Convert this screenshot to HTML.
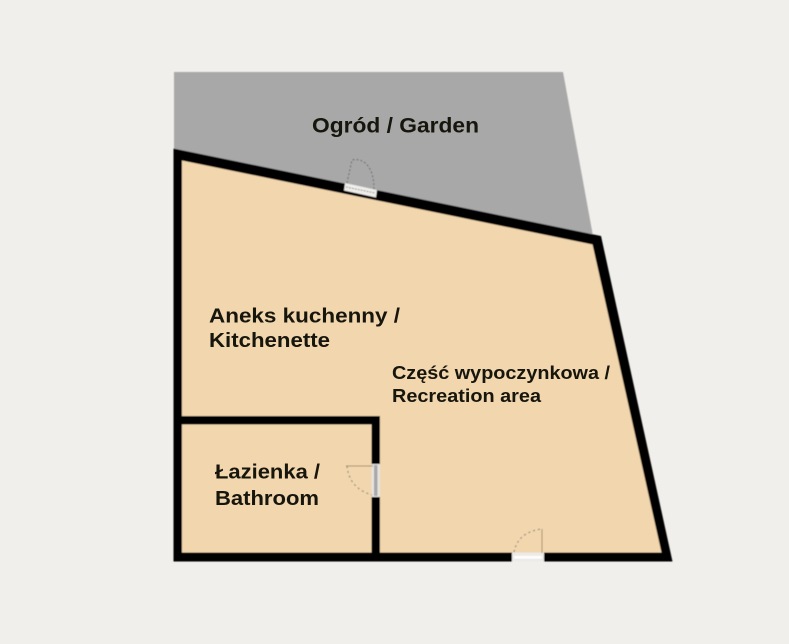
<!DOCTYPE html>
<html>
<head>
<meta charset="utf-8">
<style>
html,body{margin:0;padding:0;background:#f1efeb;}
svg{display:block;}
text{font-family:"Liberation Sans",sans-serif;font-weight:bold;fill:#161310;}
</style>
</head>
<body>
<svg width="789" height="644" viewBox="0 0 789 644" xmlns="http://www.w3.org/2000/svg">
<defs>
<filter id="b" x="-5%" y="-5%" width="110%" height="110%"><feGaussianBlur stdDeviation="0.5"/></filter>
<filter id="t" x="-5%" y="-20%" width="110%" height="140%"><feGaussianBlur stdDeviation="0.35"/></filter>
</defs>
<rect width="789" height="644" fill="#f1efeb"/>
<g filter="url(#b)">
<polygon points="174,72 563,72 593,236 174,150" fill="#a8a8a8"/>
<polygon points="173.5,148.5 601,236 672.5,561.5 173.5,561.5" fill="#000"/>
<polygon points="182,160.5 592.5,244.5 661.5,552.5 182,552.5" fill="#f2d6ad"/>
<rect x="174" y="416" width="206" height="8.5" fill="#000"/>
<rect x="371.5" y="416" width="8.5" height="142" fill="#000"/>
<!-- top door -->
<polygon points="345,183 377,190 376,197.5 344,190.5" fill="#f0eeea"/>
<line x1="346" y1="187" x2="375" y2="193" stroke="#9a9a9a" stroke-width="1" stroke-dasharray="2 1"/>
<path d="M347,183 L352,160 Q362,158 368,166 Q374,174 374,189" fill="none" stroke="#666" stroke-width="1" stroke-dasharray="2 2"/>
<!-- bath door -->
<rect x="371.5" y="464" width="8.5" height="33" fill="#e6e4e0"/>
<rect x="374" y="465" width="3.5" height="31" fill="#a9a9a9"/>
<line x1="346" y1="466" x2="373" y2="466" stroke="#a58f70" stroke-width="1"/>
<path d="M347,466 Q349,488 372,495" fill="none" stroke="#777" stroke-width="1" stroke-dasharray="2 3"/>
<!-- bottom door -->
<rect x="512" y="552.5" width="32" height="9" fill="#ecebe8"/>
<rect x="514" y="556" width="28" height="2.5" fill="#fff"/>
<line x1="542" y1="529" x2="542" y2="553" stroke="#a58f70" stroke-width="1"/>
<path d="M514,552 Q518,532 542,529" fill="none" stroke="#777" stroke-width="1" stroke-dasharray="2 3"/>
</g>
<g filter="url(#t)">
<text x="312" y="132.5" font-size="21.5" textLength="167" lengthAdjust="spacingAndGlyphs">Ogród / Garden</text>
<text x="209" y="322.5" font-size="20.5" textLength="191" lengthAdjust="spacingAndGlyphs">Aneks kuchenny /</text>
<text x="209" y="347" font-size="20.5" textLength="121" lengthAdjust="spacingAndGlyphs">Kitchenette</text>
<text x="392" y="379" font-size="18" textLength="218" lengthAdjust="spacingAndGlyphs">Część wypoczynkowa /</text>
<text x="392" y="402" font-size="18" textLength="149" lengthAdjust="spacingAndGlyphs">Recreation area</text>
<text x="215" y="478.5" font-size="20.5" textLength="105" lengthAdjust="spacingAndGlyphs">Łazienka /</text>
<text x="215" y="505" font-size="20.5" textLength="104" lengthAdjust="spacingAndGlyphs">Bathroom</text>
</g>
</svg>
</body>
</html>
